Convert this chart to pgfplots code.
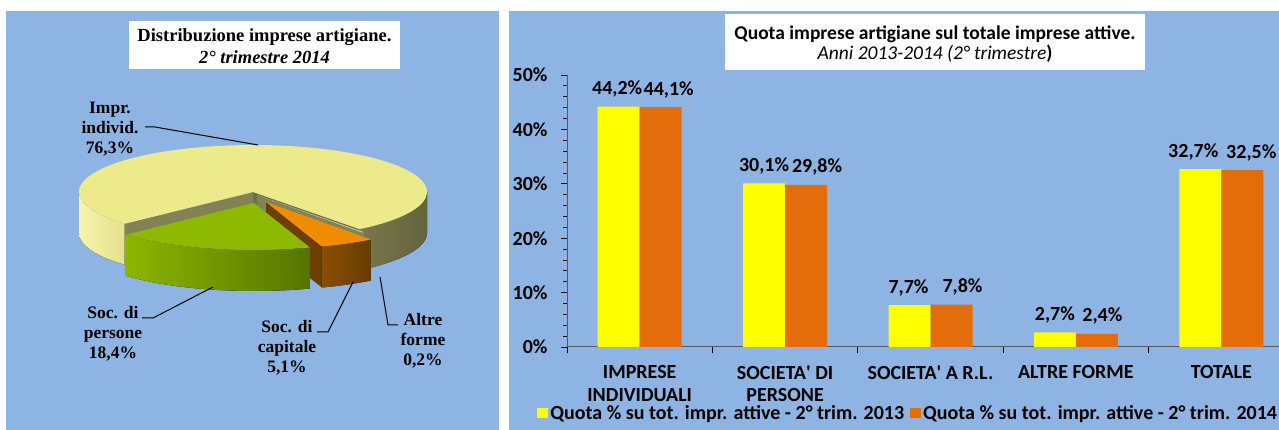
\documentclass[border=0pt]{standalone}
\usepackage{pgfplots}
\usepackage{pgfplotstable}
\pgfplotsset{compat=1.18}
\usepackage{fontspec}
\setmainfont{Carlito}
\newfontfamily\serifb{Liberation Serif}
\usetikzlibrary{calc}

\definecolor{panelblue}{RGB}{141,180,226}
\definecolor{axisgray}{RGB}{90,90,90}
\definecolor{baryellow}{RGB}{255,255,0}
\definecolor{barorange}{RGB}{228,108,10}
\definecolor{ytopc}{RGB}{237,234,140}
\definecolor{ysideLa}{RGB}{246,244,175}
\definecolor{ysideLb}{RGB}{228,226,140}
\definecolor{ysideRa}{RGB}{122,120,76}
\definecolor{ysideRb}{RGB}{100,99,62}
\definecolor{ywallL}{RGB}{132,130,84}
\definecolor{ywallR}{RGB}{112,110,70}
\definecolor{gtopc}{RGB}{141,185,0}
\definecolor{gsidea}{RGB}{141,182,0}
\definecolor{gsideb}{RGB}{86,116,0}
\definecolor{otopc}{RGB}{240,140,0}
\definecolor{osidea}{RGB}{140,78,5}
\definecolor{osideb}{RGB}{102,60,0}
\definecolor{owallc}{RGB}{108,62,0}
\definecolor{atopc}{RGB}{205,205,160}
\definecolor{asidec}{RGB}{130,130,90}

\newcommand\pielab{\serifb\bfseries\fontsize{17.5}{20}\selectfont}
\newcommand\rfont{\fontsize{20}{22.5}\selectfont\bfseries}

% bar data: x, value, label shift (pt)
\pgfplotstableread{
x y dx
0 44.2 -1.5
1 30.1 0
2 7.7 -1
3 2.7 0
4 32.7 -7
}\dataA
\pgfplotstableread{
x y dx
0 44.1 8
1 29.8 11
2 7.8 11
3 2.4 5.5
4 32.5 9
}\dataB

\begin{document}
\begin{tikzpicture}[x=1pt,y=1pt]
\useasboundingbox (0,0) rectangle (1279,430);
\clip (0,0) rectangle (1279,430);
\fill[white] (0,0) rectangle (1279,430);
\fill[panelblue] (6,0) rectangle (499,419);
\fill[panelblue] (509,0) rectangle (1279,419);

% ---- pie data (percent) ----
\def\pPers{18.4}% Soc. di persone
\def\pCap{5.1}%  Soc. di capitale
\def\pAltre{0.2}% Altre forme
\def\pInd{76.3}% Impr. individ.
\pgfmathsetmacro\aS{-137.5}
\pgfmathsetmacro\aG{\aS+3.6*\pPers}
\pgfmathsetmacro\aO{\aG+3.6*\pCap}
\pgfmathsetmacro\aT{\aO+3.6*\pAltre}
\pgfmathsetmacro\aY{\aT+3.6*\pInd}
\def\rx{174pt}\def\ry{47pt}\def\hh{41pt}
\def\rxy{174pt and 47pt}

\begin{axis}[at={(0pt,0pt)}, anchor=south west, scale only axis,
  width=500pt, height=430pt, xmin=0, xmax=500, ymin=0, ymax=430,
  hide axis, clip=false]
\coordinate (C0) at (axis cs:253,238);
\coordinate (Cg) at (axis cs:254,227);
\coordinate (Co) at (axis cs:266,228);
\coordinate (Ca) at (axis cs:257,235);
% yellow walls
\fill[ywallL] (C0) -- ($(C0)+(\aY:\rxy)$) -- ++(0,-\hh) -- ($(C0)+(0,-\hh)$) -- cycle;
\fill[ywallR] (C0) -- ($(C0)+(\aT:\rxy)$) -- ++(0,-\hh) -- ($(C0)+(0,-\hh)$) -- cycle;
% yellow sides
\fill[left color=ysideLa, right color=ysideLb] ($(C0)+(180:\rxy)$) arc[start angle=180,end angle=\aY,x radius=\rx,y radius=\ry] -- ++(0,-\hh) arc[start angle=\aY,end angle=180,x radius=\rx,y radius=\ry] -- cycle;
\fill[left color=ysideRa, right color=ysideRb] ($(C0)+(\aT:\rxy)$) arc[start angle=\aT,end angle=0,x radius=\rx,y radius=\ry] -- ++(0,-\hh) arc[start angle=0,end angle=\aT,x radius=\rx,y radius=\ry] -- cycle;
% yellow top
\fill[ytopc] (C0) -- ($(C0)+(\aT:\rxy)$) arc[start angle=\aT,end angle=\aY,x radius=\rx,y radius=\ry] -- cycle;
% altre forme
\fill[asidec] (Ca) -- ($(Ca)+(\aO:\rxy)$) -- ++(0,-\hh) -- ($(Ca)+(0,-\hh)$) -- cycle;
\fill[asidec] ($(Ca)+(\aO:\rxy)$) arc[start angle=\aO,end angle=\aT,x radius=\rx,y radius=\ry] -- ++(0,-\hh) arc[start angle=\aT,end angle=\aO,x radius=\rx,y radius=\ry] -- cycle;
\fill[atopc] (Ca) -- ($(Ca)+(\aO:\rxy)$) arc[start angle=\aO,end angle=\aT,x radius=\rx,y radius=\ry] -- cycle;
% orange
\fill[owallc] (Co) -- ($(Co)+(\aG:\rxy)$) -- ++(0,-\hh) -- ($(Co)+(0,-\hh)$) -- cycle;
\fill[left color=osidea, right color=osideb] ($(Co)+(\aG:\rxy)$) arc[start angle=\aG,end angle=\aO,x radius=\rx,y radius=\ry] -- ++(0,-\hh) arc[start angle=\aO,end angle=\aG,x radius=\rx,y radius=\ry] -- cycle;
\fill[otopc] (Co) -- ($(Co)+(\aG:\rxy)$) arc[start angle=\aG,end angle=\aO,x radius=\rx,y radius=\ry] -- cycle;
% green
\fill[left color=gsidea, right color=gsideb] ($(Cg)+(\aS:\rxy)$) arc[start angle=\aS,end angle=\aG,x radius=\rx,y radius=\ry] -- ++(0,-\hh) arc[start angle=\aG,end angle=\aS,x radius=\rx,y radius=\ry] -- cycle;
\fill[gtopc] (Cg) -- ($(Cg)+(\aS:\rxy)$) arc[start angle=\aS,end angle=\aG,x radius=\rx,y radius=\ry] -- cycle;
% labels and leaders
\node[align=center, font=\pielab] at (axis cs:110,301) {Impr.\\individ.\\76,3\%};
\draw[line width=1pt] (axis cs:145,303) -- (axis cs:155,303) -- (axis cs:258,285);
\node[align=center, font=\pielab] at (axis cs:113,96) {Soc. di\\persone\\18,4\%};
\draw[line width=1pt] (axis cs:142,112) -- (axis cs:153,112) -- (axis cs:213,143);
\node[align=center, font=\pielab] at (axis cs:287,82) {Soc. di\\capitale\\5,1\%};
\draw[line width=1pt] (axis cs:317,98) -- (axis cs:328,98) -- (axis cs:353,148);
\node[align=center, font=\pielab] at (axis cs:423,89) {Altre\\forme\\0,2\%};
\draw[line width=1pt] (axis cs:398,105) -- (axis cs:388,105) -- (axis cs:380,153);
\end{axis}

% left title
\fill[white] (129,361) rectangle (400,409);
\node[align=center, font=\serifb\bfseries\fontsize{18.5}{22}\selectfont] at (264.5,384)
  {Distribuzione imprese artigiane.\\\itshape 2° trimestre 2014};

% ---- bar chart ----
\begin{axis}[at={(567pt,83pt)}, anchor=south west, scale only axis,
  width=727pt, height=272pt,
  xmin=-0.5, xmax=4.5, ymin=0, ymax=50, clip=false,
  axis x line*=bottom, axis y line*=left,
  axis line style={draw=axisgray, line width=1pt, -},
  ybar=0pt, bar width=42pt,
  xtick={-0.5,0.5,1.5,2.5,3.5,4.5}, xticklabels={},
  extra x ticks={0,1,2,3,4},
  extra x tick labels={{IMPRESE\\INDIVIDUALI},{SOCIETA\textquotesingle{} DI\\PERSONE},{SOCIETA\textquotesingle{} A R.L.},{ALTRE FORME},{TOTALE}},
  extra x tick style={major tick length=0pt, tick label style={align=center, font=\rfont, yshift=-15pt}},
  ytick={0,10,20,30,40,50}, minor y tick num=4,
  tick align=outside, major tick length=6pt, minor tick length=4pt,
  tick style={draw=black, line width=0.8pt},
  /pgf/number format/assume math mode=true,
  yticklabel={\pgfmathprintnumber{\tick}\%},
  y tick label style={font=\rfont, xshift=-10pt},
  nodes near coords={\pgfmathprintnumber[fixed,fixed zerofill,precision=1,use comma,assume math mode=true]{\pgfplotspointmeta}\%},
  every node near coord/.append style={font=\rfont, anchor=base, yshift=12pt, inner sep=0pt, text=black},
  legend style={at={(axis description cs:-0.041,-0.243)}, anchor=west, draw=none, fill=none,
    inner sep=0pt, font=\fontsize{20}{22}\selectfont\bfseries, legend columns=2,
    /tikz/every even column/.append style={column sep=4pt}},
  legend image code/.code={\fill[#1] (0pt,-5pt) rectangle (11pt,5pt);},
]
\addplot[fill=baryellow, draw=none,
  visualization depends on={\thisrow{dx} \as \labdx},
  every node near coord/.append style={xshift=\labdx pt}] table[x=x,y=y] {\dataA};
\addplot[fill=barorange, draw=none,
  visualization depends on={\thisrow{dx} \as \labdx},
  every node near coord/.append style={xshift=\labdx pt}] table[x=x,y=y] {\dataB};
\legend{Quota \% su tot. impr. attive - 2° trim. 2013, Quota \% su tot. impr. attive - 2° trim. 2014}
\end{axis}

% right title
\fill[white] (725,360) rectangle (1145,416);
\node[align=center, font=\fontsize{19.5}{20.5}\selectfont] at (935,386)
  {\bfseries Quota imprese artigiane sul totale imprese attive.\\\itshape Anni 2013-2014 (2° trimestre\upshape\bfseries )};
\end{tikzpicture}
\end{document}
